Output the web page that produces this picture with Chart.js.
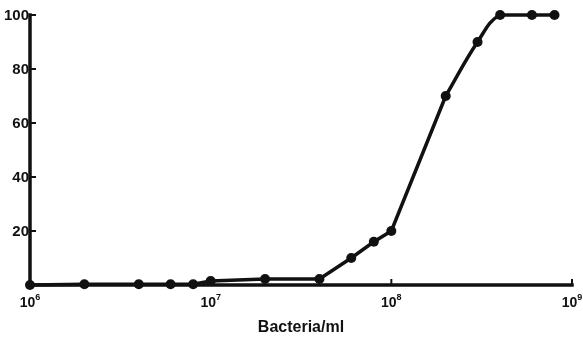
<!DOCTYPE html>
<html>
<head>
<meta charset="utf-8">
<script src="https://cdn.jsdelivr.net/npm/chart.js@4/dist/chart.umd.min.js"></script>
<style>
  html, body { margin: 0; padding: 0; background: #fff; }
  #wrap { width: 583px; height: 339px; position: relative; }
</style>
</head>
<body>
<div id="wrap"><canvas id="killChart"></canvas></div>
<script>
// Bacteria concentration (per ml) and response (%)
var bacteria = [1e6, 2e6, 4e6, 6e6, 8e6, 1e7, 2e7, 4e7, 6e7, 8e7, 1e8, 2e8, 3e8, 4e8, 6e8, 8e8];
var response = [0, 0.3, 0.3, 0.3, 0.3, 1.5, 2.2, 2.2, 10, 16, 20, 70, 90, 100, 100, 100];
var yTicks = [20, 40, 60, 80, 100];
var xTicks = [6, 7, 8, 9];   // powers of ten
var xTitle = 'Bacteria/ml';

var INK = '#111';
var FONT = '"Liberation Sans", Arial, sans-serif';

var points = bacteria.map(function(b, i) { return { x: b, y: response[i] }; });
var split = bacteria.indexOf(2e8);

// Axes, inward ticks and labels, positioned from the chart's own scales
var axesPlugin = {
    id: 'paperAxes',
    beforeDatasetsDraw: function(chart) {
        var ctx = chart.ctx, a = chart.chartArea;
        var xs = chart.scales.x, ys = chart.scales.y;
        ctx.save();
        ctx.strokeStyle = INK;
        ctx.lineWidth = 3.5;
        ctx.lineCap = 'square';
        ctx.beginPath();
        ctx.moveTo(a.left, a.top);
        ctx.lineTo(a.left, a.bottom);
        ctx.lineTo(a.right, a.bottom);
        ctx.stroke();

        ctx.lineWidth = 2;
        ctx.lineCap = 'butt';
        yTicks.forEach(function(v) {
            var y = ys.getPixelForValue(v);
            ctx.beginPath();
            ctx.moveTo(a.left, y);
            ctx.lineTo(a.left + 6, y);
            ctx.stroke();
        });
        xTicks.slice(1).forEach(function(p) {
            var x = xs.getPixelForValue(Math.pow(10, p));
            ctx.beginPath();
            ctx.moveTo(x, a.bottom);
            ctx.lineTo(x, a.bottom - 6);
            ctx.stroke();
        });

        ctx.fillStyle = INK;
        ctx.font = 'bold 15px ' + FONT;
        ctx.textAlign = 'right';
        ctx.textBaseline = 'middle';
        yTicks.forEach(function(v) {
            ctx.fillText(String(v), a.left - 1, ys.getPixelForValue(v) + 1);
        });

        xTicks.forEach(function(p) {
            var x = xs.getPixelForValue(Math.pow(10, p));
            ctx.font = 'bold 14px ' + FONT;
            var w1 = ctx.measureText('10').width;
            ctx.font = 'bold 9px ' + FONT;
            var w2 = ctx.measureText(String(p)).width;
            var left = x - (w1 + w2) / 2;
            ctx.textAlign = 'left';
            ctx.textBaseline = 'alphabetic';
            ctx.font = 'bold 14px ' + FONT;
            ctx.fillText('10', left, a.bottom + 22);
            ctx.font = 'bold 9px ' + FONT;
            ctx.fillText(String(p), left + w1, a.bottom + 15);
        });

        ctx.font = 'bold 16px ' + FONT;
        ctx.textAlign = 'center';
        ctx.textBaseline = 'middle';
        ctx.fillText(xTitle, (a.left + a.right) / 2, 328);
        ctx.restore();
    }
};

new Chart(document.getElementById('killChart'), {
    type: 'scatter',
    data: {
        datasets: [{
            // rising part, straight segments
            data: points.slice(0, split + 1),
            showLine: true,
            tension: 0,
            borderColor: INK,
            borderWidth: 3.5,
            pointRadius: 0,
            clip: false
        }, {
            // smooth shoulder up to the plateau
            data: points.slice(split),
            showLine: true,
            tension: 0.4,
            borderColor: INK,
            borderWidth: 3.5,
            pointRadius: 0,
            clip: false
        }, {
            data: points,
            showLine: false,
            pointRadius: 5,
            pointBackgroundColor: INK,
            pointBorderWidth: 0,
            clip: false
        }]
    },
    options: {
        responsive: true,
        maintainAspectRatio: false,
        animation: false,
        layout: { padding: { left: 30, top: 15, right: 11, bottom: 54 } },
        scales: {
            x: { type: 'logarithmic', min: 1e6, max: 1e9, display: false },
            y: { type: 'linear', min: 0, max: 100, display: false }
        },
        plugins: {
            legend: { display: false },
            tooltip: { enabled: false }
        }
    },
    plugins: [axesPlugin]
});
</script>
</body>
</html>
